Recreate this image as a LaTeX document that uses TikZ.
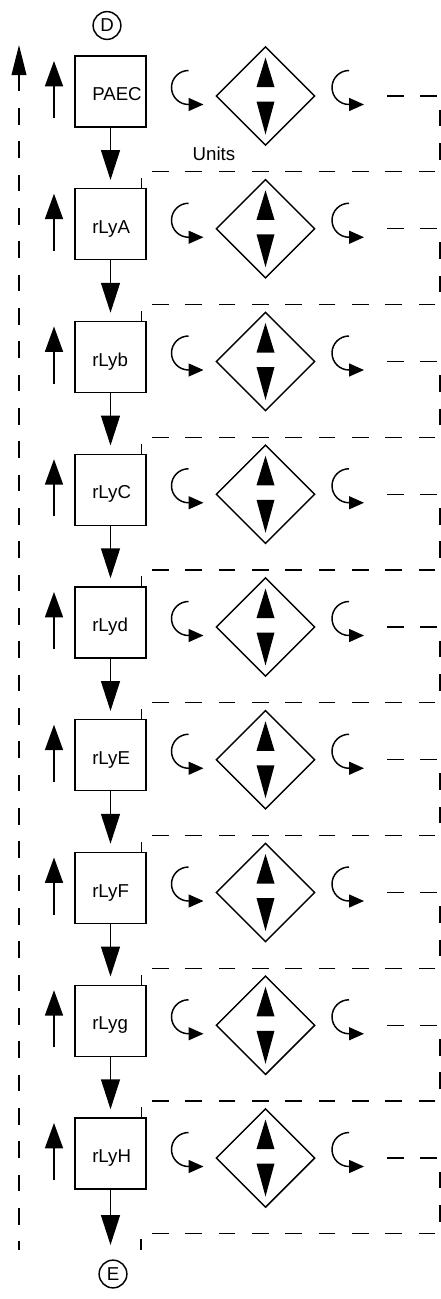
\documentclass[tikz,border=0pt]{standalone}
\usepackage{fontspec}
\setmainfont{Liberation Sans}
\usetikzlibrary{arrows.meta,shapes.geometric}

\tikzset{
  unitbox/.style={draw, line width=1.1pt, minimum width=53.25pt, minimum height=53.25pt, inner sep=0pt},
  boxlbl/.style={font=\fontsize{14}{16}\selectfont, anchor=base west, inner sep=0pt},
  selector/.style={draw, diamond, line width=1.1pt, minimum width=74.25pt, minimum height=74.25pt, inner sep=0pt},
  endmark/.style={draw, circle, line width=1.1pt, minimum size=20.8pt, inner sep=0pt, font=\fontsize{14}{16}\selectfont},
  flow/.style={line width=1.1pt, -{Triangle[width=14.25pt,length=22.5pt]}},
  rise/.style={line width=1.1pt, -{Triangle[width=13.5pt,length=19pt]}},
  curl/.style={line width=1.1pt, -{Triangle[width=9.75pt,length=11.25pt]}},
  link/.style={line width=1.1pt, dash pattern=on 12.5pt off 12.5pt},
}

\begin{document}
\begin{tikzpicture}[x=0.75pt,y=0.75pt,yscale=-1,xscale=1]
\useasboundingbox (0,0) rectangle (441,1299);

%Shape: Circle (start)
\node[endmark] (markD) at (107,25.5) {D};

%Shape: rows of unit boxes with selector
\foreach \name [count=\i from 0] in {PAEC,rLyA,rLyb,rLyC,rLyd,rLyE,rLyF,rLyg,rLyH} {
  \pgfmathsetmacro\rowtop{56+\i*132.75}
  \node[unitbox] (box\i) at (110.5,\rowtop+35.5) {};
  \node[boxlbl] (lbl\i) at (92,\rowtop+44.5) {\name};
  \node[selector] (sel\i) at (265.5,\rowtop+40) {};
  % up / down marks inside the diamond
  \fill ([shift={(-9,-9)}]sel\i.center) -- ([shift={(9,-9)}]sel\i.center) -- ([shift={(0,-38.5)}]sel\i.center) -- cycle;
  \fill ([shift={(-9,5.5)}]sel\i.center) -- ([shift={(9,5.5)}]sel\i.center) -- ([shift={(0,38.5)}]sel\i.center) -- cycle;
  % curls (open to the right, tip at the bottom)
  \draw[curl] ([shift={(-77,-25.5)}]sel\i.center) arc[start angle=270, end angle=90, radius=17] -- ++(15,0);
  \draw[curl] ([shift={(83.5,-25.5)}]sel\i.center) arc[start angle=270, end angle=90, radius=17] -- ++(15,0);
  % small up arrow
  \coordinate (lo\i) at (54,\rowtop+62);
  \coordinate (up\i) at (54,\rowtop+5);
  \draw[rise] (lo\i) -- (up\i);
  % dashed return
  \coordinate (out\i) at ([shift={(121.5,0)}]sel\i.center);
  \coordinate (rim\i) at (440,\rowtop+115.75);
}

%Straight Lines: down arrows and dashed returns
\foreach \i in {0,...,7} {
  \pgfmathtruncatemacro\j{\i+1}
  \draw[flow, shorten >=6pt] (box\i) -- (box\j);
  \draw[link] (out\i) -| (rim\i) -| ([shift={(-5,0)}]box\j.north east);
}
\coordinate (sink) at (110.5,1245);
\coordinate (tail) at (141,1250);
\draw[flow] (box8) -- (sink);
\draw[link] (out8) -| (rim8) -| (tail);

%Straight Lines: long return on the left
\coordinate (rtop) at (19,45);
\coordinate (rbot) at (19,1250);
\draw[link, {Triangle[width=11pt,length=22.5pt]}-] (rtop) -- (rbot);

% Text Node
\node[font=\fontsize{14}{16}\selectfont] (units) at (214,154) {Units};

%Shape: Circle (end)
\node[endmark] (markE) at (113,1274) {E};

\end{tikzpicture}
\end{document}
